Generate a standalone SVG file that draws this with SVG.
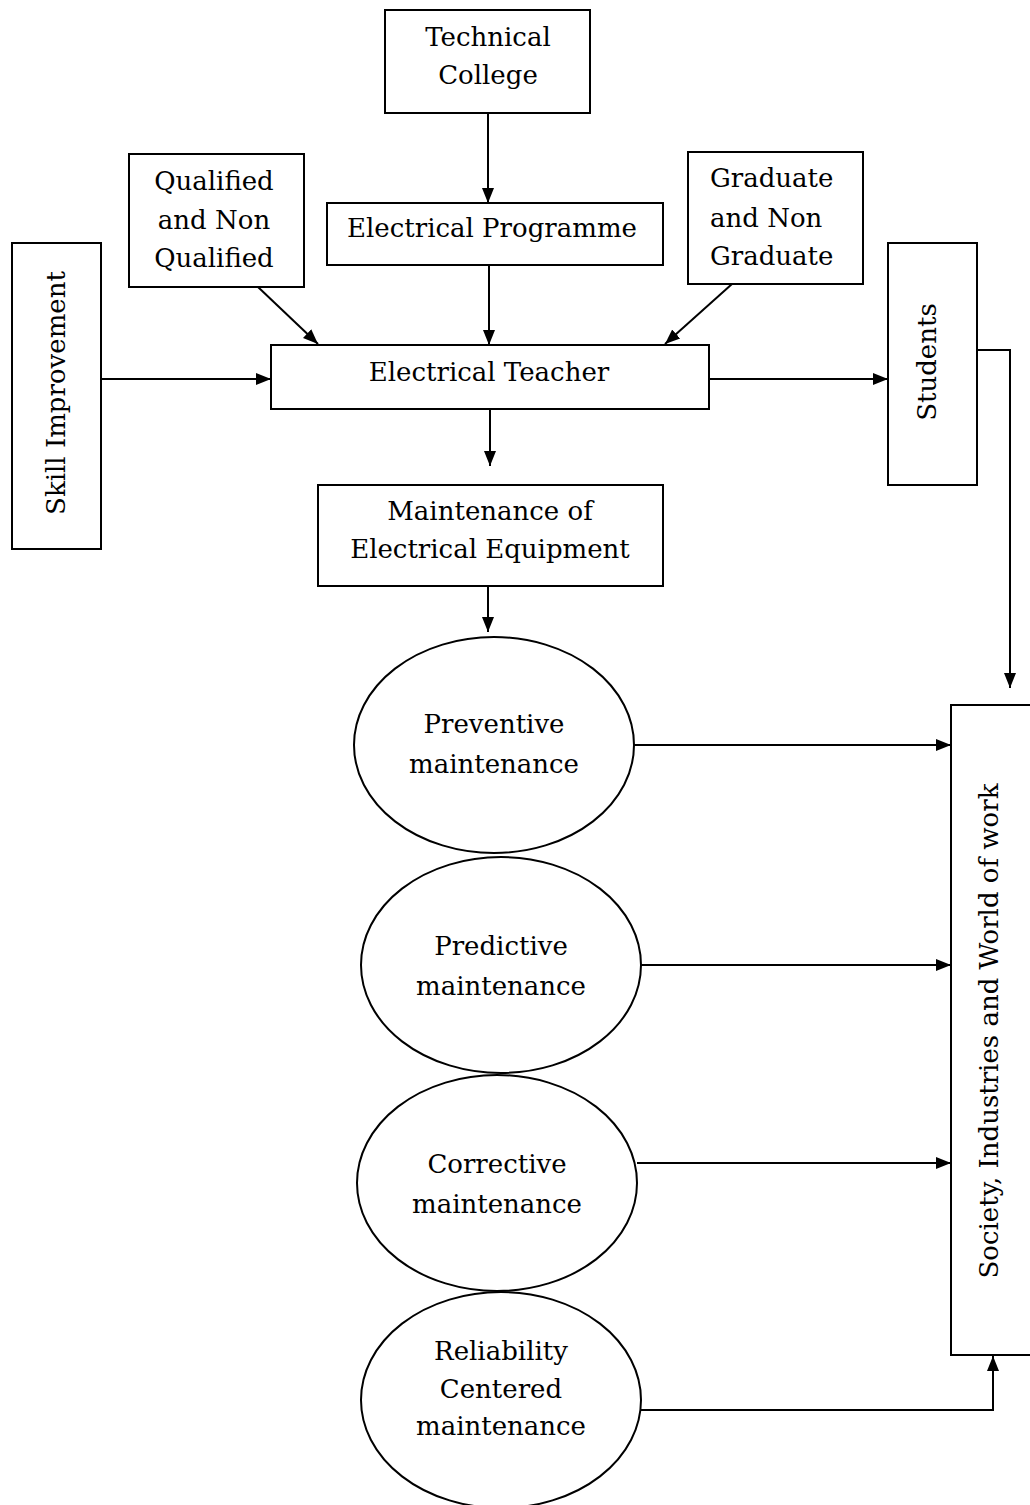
<svg xmlns="http://www.w3.org/2000/svg" width="1030" height="1505" viewBox="0 0 1030 1505">
<style>
.box{fill:#fff;stroke:#000;stroke-width:2}
.ell{fill:#fff;stroke:#000;stroke-width:2}
.t{font-family:"DejaVu Serif","Liberation Serif",serif;font-size:26px;fill:#000;text-anchor:middle}
.ts{font-family:"DejaVu Serif","Liberation Serif",serif;font-size:26px;fill:#000;text-anchor:start}
.c{fill:none;stroke:#000;stroke-width:2}
</style>
<defs>
<marker id="ah" markerUnits="userSpaceOnUse" markerWidth="16" markerHeight="16" viewBox="0 0 16 16" refX="15" refY="8" orient="auto">
<path d="M0,2 L15,8 L0,14 Z" fill="#000"/>
</marker>
</defs>
<rect width="1030" height="1505" fill="#fff"/>

<g id="connectors">
<line class="c" x1="488" y1="113" x2="488" y2="203" marker-end="url(#ah)"/>
<line class="c" x1="489" y1="265" x2="489" y2="345" marker-end="url(#ah)"/>
<line class="c" x1="258" y1="287" x2="318" y2="344" marker-end="url(#ah)"/>
<line class="c" x1="732" y1="284" x2="665" y2="344" marker-end="url(#ah)"/>
<line class="c" x1="101" y1="379" x2="271" y2="379" marker-end="url(#ah)"/>
<line class="c" x1="709" y1="379" x2="888" y2="379" marker-end="url(#ah)"/>
<polyline class="c" points="977,350 1010,350 1010,688" marker-end="url(#ah)"/>
<line class="c" x1="490" y1="409" x2="490" y2="466" marker-end="url(#ah)"/>
<line class="c" x1="488" y1="586" x2="488" y2="632" marker-end="url(#ah)"/>
<line class="c" x1="634" y1="745" x2="951" y2="745" marker-end="url(#ah)"/>
<line class="c" x1="641" y1="965" x2="951" y2="965" marker-end="url(#ah)"/>
<line class="c" x1="637" y1="1163" x2="951" y2="1163" marker-end="url(#ah)"/>
<polyline class="c" points="641,1410 993,1410 993,1356" marker-end="url(#ah)"/>
</g>

<g id="technical-college">
<rect class="box" x="385" y="10" width="205" height="103"/>
<text class="t" x="488" y="46">Technical</text>
<text class="t" x="488" y="84">College</text>
</g>

<g id="electrical-programme">
<rect class="box" x="327" y="203" width="336" height="62"/>
<text class="t" x="492" y="237">Electrical Programme</text>
</g>

<g id="qualified">
<rect class="box" x="129" y="154" width="175" height="133"/>
<text class="t" x="214" y="190">Qualified</text>
<text class="t" x="214" y="229">and Non</text>
<text class="t" x="214" y="267">Qualified</text>
</g>

<g id="graduate">
<rect class="box" x="688" y="152" width="175" height="132"/>
<text class="ts" x="710" y="187">Graduate</text>
<text class="ts" x="710" y="227">and Non</text>
<text class="ts" x="710" y="265">Graduate</text>
</g>

<g id="skill-improvement">
<rect class="box" x="12" y="243" width="89" height="306"/>
<text class="t" transform="translate(65,393) rotate(-90)">Skill Improvement</text>
</g>

<g id="electrical-teacher">
<rect class="box" x="271" y="345" width="438" height="64"/>
<text class="t" x="489" y="381">Electrical Teacher</text>
</g>

<g id="students">
<rect class="box" x="888" y="243" width="89" height="242"/>
<text class="t" transform="translate(936,362) rotate(-90)">Students</text>
</g>

<g id="maintenance">
<rect class="box" x="318" y="485" width="345" height="101"/>
<text class="t" x="490" y="520">Maintenance of</text>
<text class="t" x="490" y="558">Electrical Equipment</text>
</g>

<g id="preventive">
<ellipse class="ell" cx="494" cy="745" rx="140" ry="108"/>
<text class="t" x="494" y="733">Preventive</text>
<text class="t" x="494" y="773">maintenance</text>
</g>

<g id="predictive">
<ellipse class="ell" cx="501" cy="965" rx="140" ry="108"/>
<text class="t" x="501" y="955">Predictive</text>
<text class="t" x="501" y="995">maintenance</text>
</g>

<g id="corrective">
<ellipse class="ell" cx="497" cy="1183" rx="140" ry="108"/>
<text class="t" x="497" y="1173">Corrective</text>
<text class="t" x="497" y="1213">maintenance</text>
</g>

<g id="reliability">
<ellipse class="ell" cx="501" cy="1400" rx="140" ry="108"/>
<text class="t" x="501" y="1360">Reliability</text>
<text class="t" x="501" y="1398">Centered</text>
<text class="t" x="501" y="1435">maintenance</text>
</g>

<g id="society">
<rect class="box" x="951" y="705" width="100" height="650"/>
<text class="t" transform="translate(998,1031) rotate(-90)">Society, Industries and World of work</text>
</g>
</svg>
